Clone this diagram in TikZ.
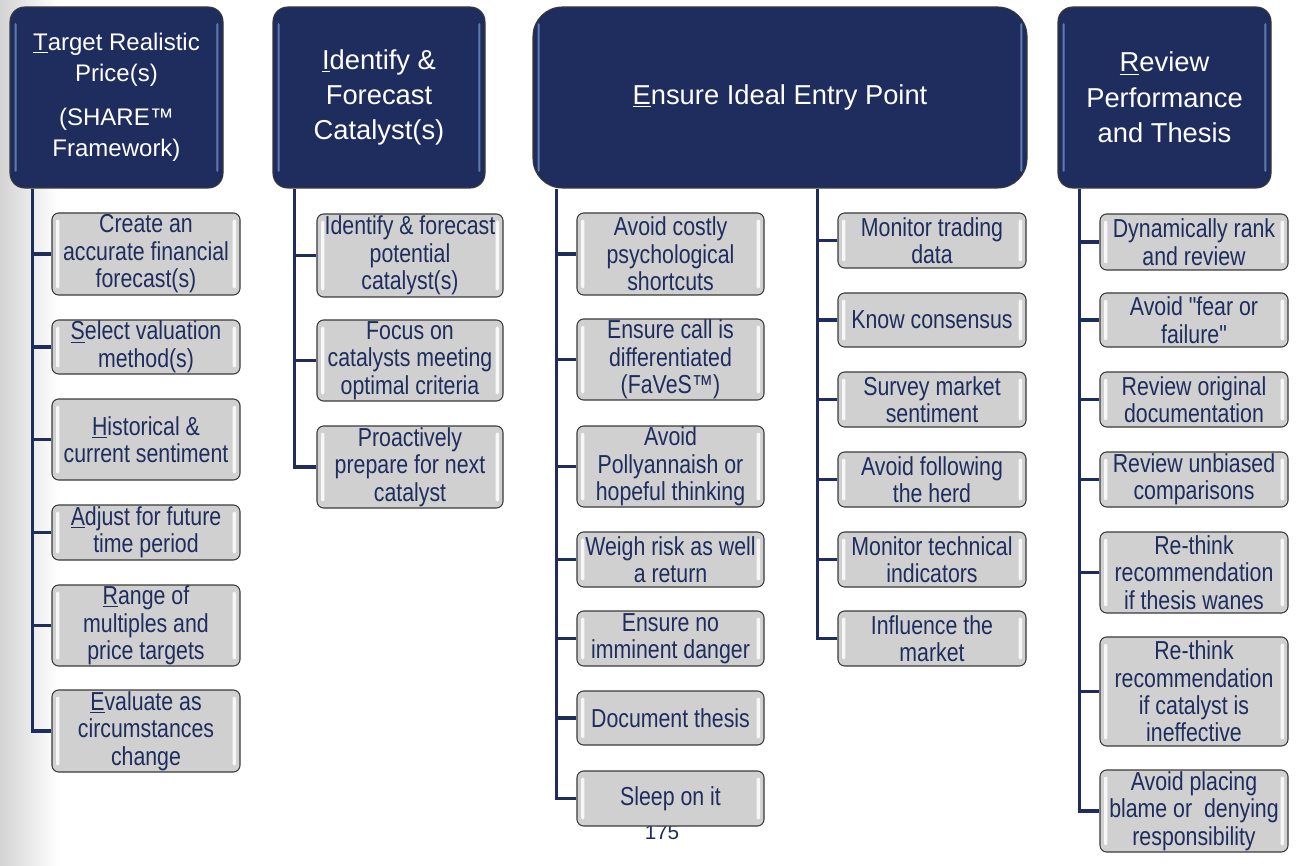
\documentclass[tikz,border=0pt]{standalone}
\usepackage{fontspec}
\setmainfont{Liberation Sans}
\newfontfamily\boxfont{Liberation Sans}[FakeStretch=0.82]
\definecolor{navy}{HTML}{1F2D5E}
\definecolor{boxgray}{HTML}{D0D0D0}
\definecolor{edgec}{HTML}{3A3A3A}
\definecolor{hl}{HTML}{7090C8}
\tikzset{
  hdrbox/.style={draw=edgec, line width=0.8pt, fill=navy, rounded corners=11pt,
    inner sep=0pt, text=white, align=center,
    font=\fontsize{20.5}{26.5}\selectfont,
    path picture={
      \fill[hl, opacity=0.8, rounded corners=1pt]
        ([xshift=3.5pt,yshift=-12pt]path picture bounding box.north west) rectangle
        ([xshift=5pt,yshift=12pt]path picture bounding box.south west);
      \fill[hl, opacity=0.8, rounded corners=1pt]
        ([xshift=-5pt,yshift=-12pt]path picture bounding box.north east) rectangle
        ([xshift=-3.5pt,yshift=12pt]path picture bounding box.south east);
    }},
  gbox/.style={draw=edgec, line width=0.8pt, fill=boxgray, rounded corners=5pt,
    inner sep=0pt, text=navy, align=center,
    font=\boxfont\fontsize{19.5}{20.6}\selectfont,
    path picture={
      \fill[white, opacity=0.85, rounded corners=1pt]
        ([xshift=3pt,yshift=-5pt]path picture bounding box.north west) rectangle
        ([xshift=5.5pt,yshift=5pt]path picture bounding box.south west);
      \fill[white, opacity=0.85, rounded corners=1pt]
        ([xshift=-5.5pt,yshift=-5pt]path picture bounding box.north east) rectangle
        ([xshift=-3pt,yshift=5pt]path picture bounding box.south east);
    }},
  conn/.style={draw=navy, line width=2.6pt},
  pagenum/.style={text=navy, font=\fontsize{15.5}{18}\selectfont, inner sep=0pt}
}
% \bx{style}{name}{x1}{y1}{x2}{y2}{text}   (pixel coordinates)
\newcommand\bx[7]{%
  \pgfmathsetmacro\bxw{(#5-#3)*0.75}%
  \pgfmathsetmacro\bxh{(#6-#4)*0.75}%
  \pgfmathsetmacro\bxcx{(#3+#5)/2}%
  \pgfmathsetmacro\bxcy{(#4+#6)/2}%
  \node[#1, minimum width=\bxw pt, minimum height=\bxh pt] (#2) at (\bxcx,\bxcy) {#7};%
}
\begin{document}
\begin{tikzpicture}[x=0.75pt,y=-0.75pt]
\useasboundingbox (0,0) rectangle (1296,866);
\fill[white] (0,0) rectangle (1296,866);
\shade[left color=black!17, right color=white] (0,0) rectangle (58,866);

% page number (partly hidden by the last box)
\node[pagenum] (pg) at (662,832) {175};

% headers
\bx{hdrbox, font=\fontsize{18}{23.3}\selectfont}{h1}{10}{7}{223}{188}
  {\underline{T}arget Realistic\\Price(s)\\[10pt](SHARE™\\Framework)}
\bx{hdrbox}{h2}{273}{7}{485}{188}{\underline{I}dentify \&\\Forecast\\Catalyst(s)}
\bx{hdrbox, rounded corners=22pt}{h3}{533}{7}{1027}{188}{\underline{E}nsure Ideal Entry Point}
\bx{hdrbox}{h4}{1058}{7}{1271}{188}{\underline{R}eview\\Performance\\and Thesis}

% column 1
\bx{gbox}{a1}{52}{213}{240}{295}{Create an\\accurate financial\\forecast(s)}
\bx{gbox}{a2}{52}{320}{240}{374}{\underline{S}elect valuation\\method(s)}
\bx{gbox}{a3}{52}{399}{240}{480}{\underline{H}istorical \&\\current sentiment}
\bx{gbox}{a4}{52}{505}{240}{560}{\underline{A}djust for future\\time period}
\bx{gbox}{a5}{52}{585}{240}{666}{\underline{R}ange of\\multiples and\\price targets}
\bx{gbox}{a6}{52}{690}{240}{772}{\underline{E}valuate as\\circumstances\\change}

% column 2
\bx{gbox}{b1}{317}{214}{503}{297}{Identify \& forecast\\potential\\catalyst(s)}
\bx{gbox}{b2}{317}{320}{503}{401}{Focus on\\catalysts meeting\\optimal criteria}
\bx{gbox}{b3}{317}{426}{503}{508}{Proactively\\prepare for next\\catalyst}

% column 3a
\bx{gbox}{c1}{577}{213}{764}{295}{Avoid costly\\psychological\\shortcuts}
\bx{gbox}{c2}{577}{319}{764}{400}{Ensure call is\\differentiated\\(FaVeS™)}
\bx{gbox}{c3}{577}{426}{764}{507}{Avoid\\Pollyannaish or\\hopeful thinking}
\bx{gbox}{c4}{577}{532}{764}{587}{Weigh risk as well\\a return}
\bx{gbox}{c5}{577}{611}{764}{666}{Ensure no\\imminent danger}
\bx{gbox}{c6}{577}{691}{764}{745}{Document thesis}
\bx{gbox}{c7}{577}{771}{764}{826}{Sleep on it}

% column 3b
\bx{gbox}{d1}{838}{213}{1026}{268}{Monitor trading\\data}
\bx{gbox}{d2}{838}{293}{1026}{347}{Know consensus}
\bx{gbox}{d3}{838}{372}{1026}{427}{Survey market\\sentiment}
\bx{gbox}{d4}{838}{452}{1026}{507}{Avoid following\\the herd}
\bx{gbox}{d5}{838}{532}{1026}{587}{Monitor technical\\indicators}
\bx{gbox}{d6}{838}{611}{1026}{666}{Influence the\\market}

% column 4
\bx{gbox}{e1}{1100}{214}{1288}{270}{Dynamically rank\\and review}
\bx{gbox}{e2}{1100}{293}{1288}{347}{Avoid "fear or\\failure"}
\bx{gbox}{e3}{1100}{372}{1288}{427}{Review original\\documentation}
\bx{gbox}{e4}{1100}{452}{1288}{507}{Review unbiased\\comparisons}
\bx{gbox}{e5}{1100}{532}{1288}{613}{Re-think\\recommendation\\if thesis wanes}
\bx{gbox}{e6}{1100}{637}{1288}{746}{Re-think\\recommendation\\if catalyst is\\ineffective}
\bx{gbox}{e7}{1100}{770}{1288}{852}{Avoid placing\\blame or\ \ denying\\responsibility}

% spines
\coordinate (s1) at ([xshift=17.25pt]h1.south west);
\coordinate (s2) at ([xshift=16.5pt]h2.south west);
\coordinate (s3) at ([xshift=18pt]h3.south west);
\coordinate (s4) at ([xshift=213.75pt]h3.south west);
\coordinate (s5) at ([xshift=16.5pt]h4.south west);

\foreach \n in {a1,a2,a3,a4,a5,a6} \draw[conn] (\n.west) -| (s1);
\foreach \n in {b1,b2,b3} \draw[conn] (\n.west) -| (s2);
\foreach \n in {c1,c2,c3,c4,c5,c6,c7} \draw[conn] (\n.west) -| (s3);
\foreach \n in {d1,d2,d3,d4,d5,d6} \draw[conn] (\n.west) -| (s4);
\foreach \n in {e1,e2,e3,e4,e5,e6,e7} \draw[conn] (\n.west) -| (s5);
\end{tikzpicture}
\end{document}
